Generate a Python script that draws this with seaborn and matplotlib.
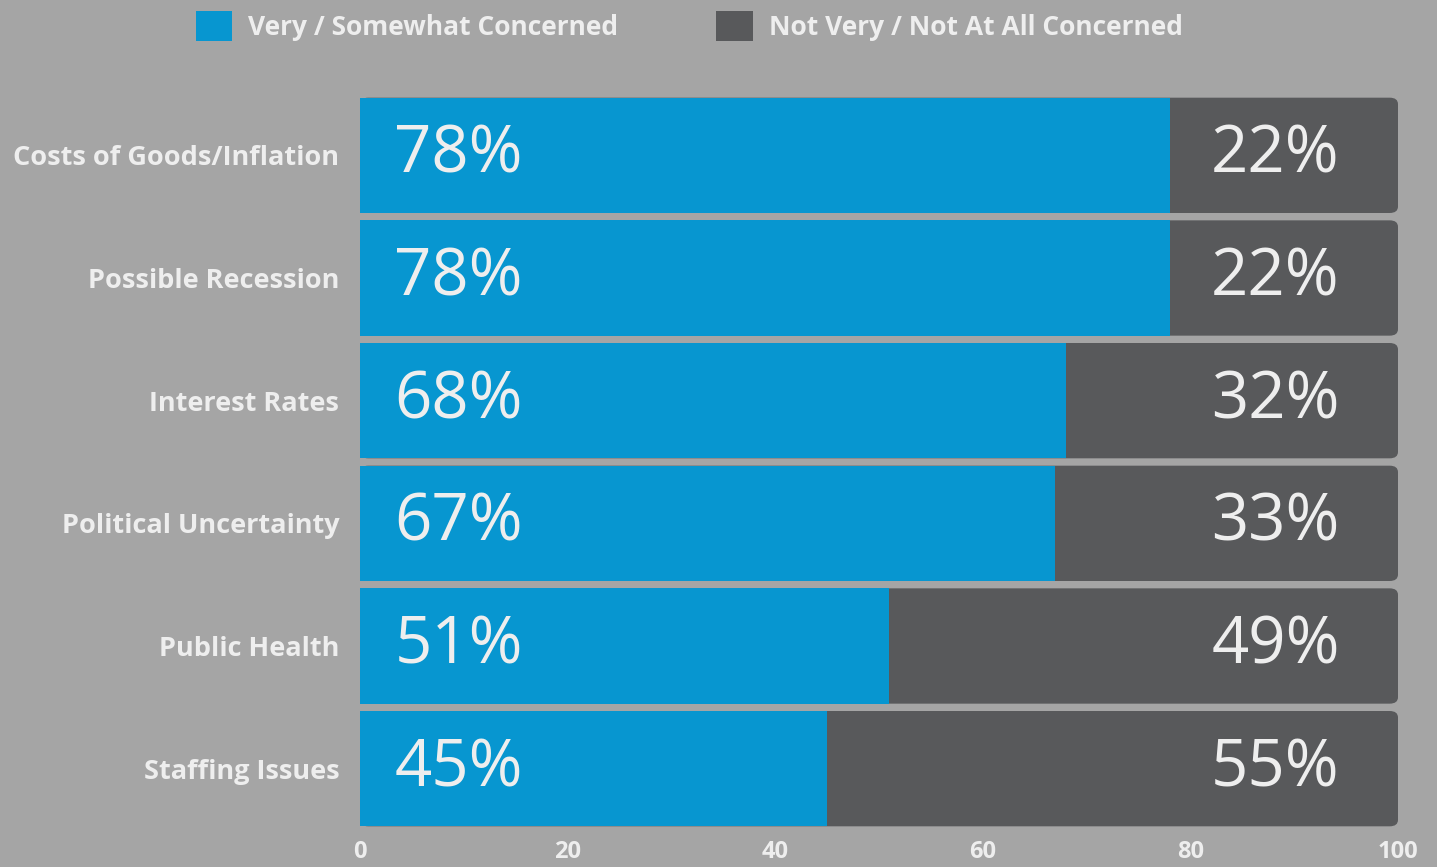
import pandas as pd
import seaborn as sns
from matplotlib import pyplot as plt
from matplotlib.patches import FancyBboxPatch, Patch

categories = ["Costs of Goods/Inflation", "Possible Recession", "Interest Rates",
              "Political Uncertainty", "Public Health", "Staffing Issues"]
concerned = [78, 78, 68, 67, 51, 45]
not_concerned = [22, 22, 32, 33, 49, 55]
series_names = ["Very / Somewhat Concerned", "Not Very / Not At All Concerned"]
x_ticks = [0, 20, 40, 60, 80, 100]

BG = "#a5a5a5"
BLUE = "#0796d0"
DARK = "#58595b"
TXT = "#eeeeee"

df = pd.DataFrame({"category": categories, "concerned": concerned,
                   "not_concerned": not_concerned})
df["total"] = df["concerned"] + df["not_concerned"]

sns.set_style("white")
plt.rcParams["font.family"] = ["Open Sans", "DejaVu Sans"]

fig = plt.figure(figsize=(14.37, 8.67), dpi=100, facecolor=BG)
ax = fig.add_axes([360 / 1437, 1 - 830 / 867, 1038 / 1437, 736 / 867])
ax.set_facecolor(BG)

# full-length dark bars, then redraw them with rounded corners
sns.barplot(data=df, x="total", y="category", orient="h", color=DARK,
            width=0.94, ax=ax, saturation=1, linewidth=0)
dark_patches = list(ax.patches)
for p in dark_patches:
    x0, y0, w, h = p.get_x(), p.get_y(), p.get_width(), p.get_height()
    p.set_visible(False)
    ax.add_patch(FancyBboxPatch((x0, y0), w, h,
                                boxstyle="round,pad=0,rounding_size=0.8",
                                mutation_aspect=0.066, fc=DARK, ec="none"))

sns.barplot(data=df, x="concerned", y="category", orient="h", color=BLUE,
            width=0.94, ax=ax, saturation=1, linewidth=0)

for i, (c, n) in enumerate(zip(concerned, not_concerned)):
    ax.text(3.3, i + 0.005, f"{c}%", color=TXT, fontsize=47, fontweight="normal",
            ha="left", va="center")
    ax.text(94.4, i + 0.005, f"{n}%", color=TXT, fontsize=47, fontweight="normal",
            ha="right", va="center")

ax.set_xlim(0, 100)
ax.set_ylim(5.5, -0.5)
ax.set_xticks(x_ticks)
ax.set_xticklabels([str(t) for t in x_ticks], fontsize=17, fontweight="bold", color=TXT)
ax.set_yticks(range(len(categories)))
ax.set_yticklabels(categories, fontsize=19.5, fontweight="bold", color=TXT)
ax.tick_params(axis="x", length=0, pad=7)
ax.tick_params(axis="y", length=0, pad=15)
ax.set_xlabel("")
ax.set_ylabel("")
for s in ax.spines.values():
    s.set_visible(False)

handles = [Patch(fc=BLUE, ec="none"), Patch(fc=DARK, ec="none")]
leg = fig.legend(handles, series_names, loc="upper center", ncol=2,
                 bbox_to_anchor=(0.4795, 1.015), frameon=False,
                 handlelength=1.4, handleheight=1.4, handletextpad=0.6,
                 columnspacing=3.7, prop={"size": 19, "weight": "bold"})
for t in leg.get_texts():
    t.set_color(TXT)

fig.savefig("out.png", dpi=100, facecolor=BG)
